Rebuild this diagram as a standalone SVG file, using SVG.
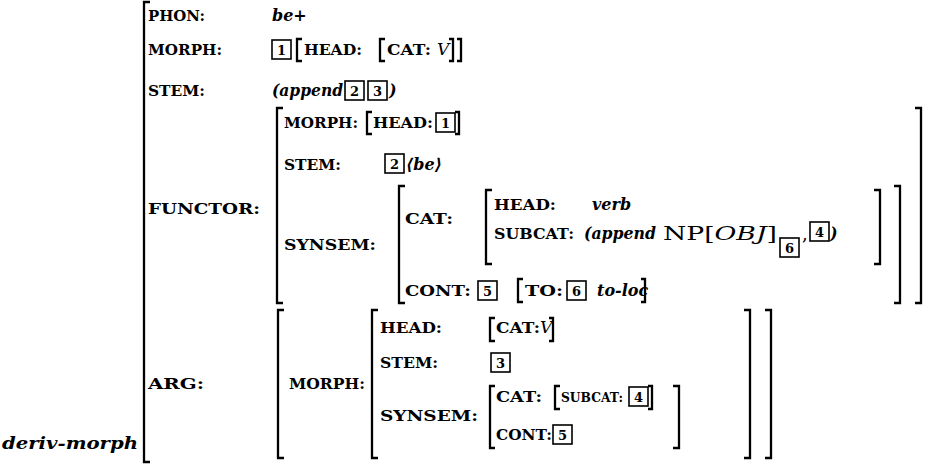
<svg xmlns="http://www.w3.org/2000/svg" width="934" height="464" viewBox="0 0 934 464">
<style>
text{font-family:"DejaVu Serif","Liberation Serif",serif;fill:#000}
.lb{font-weight:bold;font-size:15px}
.it{font-style:italic;font-weight:bold;font-size:16px}
.iv{font-style:italic;font-size:17px}
.rm{font-size:18px}
.tg{font-weight:bold;font-size:13px;text-anchor:middle}
.br{fill:none;stroke:#000;stroke-width:2.3}
.bx{fill:none;stroke:#000;stroke-width:1.6}
</style>
<rect width="934" height="464" fill="#fff"/>
<g id="avm">
<path class="br" d="M150 2H144V462H150"/>
<text class="it" x="2" y="449" textLength="136" lengthAdjust="spacingAndGlyphs">deriv-morph</text>
<text class="lb" x="148" y="21" textLength="57" lengthAdjust="spacingAndGlyphs">PHON:</text>
<text class="it" x="272" y="21">be+</text>
<text class="lb" x="148" y="55" textLength="74" lengthAdjust="spacingAndGlyphs">MORPH:</text>
<rect class="bx" x="272" y="40" width="19" height="19"/><text class="tg" x="281.5" y="55">1</text>
<path class="br" d="M302 39H297V61H302"/>
<text class="lb" x="304" y="55" textLength="58" lengthAdjust="spacingAndGlyphs">HEAD:</text>
<path class="br" d="M385 39H380V61H385"/>
<text class="lb" x="387" y="55" textLength="44" lengthAdjust="spacingAndGlyphs">CAT:</text>
<text class="iv" x="437" y="55">V</text>
<path class="br" d="M449 39H453V61H449"/>
<path class="br" d="M457 39H461V61H457"/>
<text class="lb" x="148" y="96" textLength="57" lengthAdjust="spacingAndGlyphs">STEM:</text>
<text class="it" x="272" y="96" textLength="71" lengthAdjust="spacingAndGlyphs">(append</text>
<rect class="bx" x="345" y="81" width="19" height="19"/><text class="tg" x="354.5" y="96">2</text>
<rect class="bx" x="368" y="81" width="19" height="19"/><text class="tg" x="377.5" y="96">3</text>
<text class="it" x="389" y="96">)</text>
<text class="lb" x="148" y="214" textLength="112" lengthAdjust="spacingAndGlyphs">FUNCTOR:</text>
<path class="br" d="M283 108H277V303H283"/>
<path class="br" d="M915 108H921V303H915"/>
<text class="lb" x="284" y="128" textLength="74" lengthAdjust="spacingAndGlyphs">MORPH:</text>
<path class="br" d="M372 112H367V134H372"/>
<text class="lb" x="373" y="128" textLength="60" lengthAdjust="spacingAndGlyphs">HEAD:</text>
<rect class="bx" x="436" y="113" width="19" height="19"/><text class="tg" x="445.5" y="128">1</text>
<path class="br" d="M455 112H459V134H455"/>
<text class="lb" x="284" y="170" textLength="57" lengthAdjust="spacingAndGlyphs">STEM:</text>
<rect class="bx" x="385" y="154" width="19" height="19"/><text class="tg" x="394.5" y="169">2</text>
<text class="it" x="406" y="170">⟨be⟩</text>
<text class="lb" x="284" y="250" textLength="92" lengthAdjust="spacingAndGlyphs">SYNSEM:</text>
<path class="br" d="M405 186H399V303H405"/>
<path class="br" d="M894 186H900V303H894"/>
<text class="lb" x="405" y="224" textLength="48" lengthAdjust="spacingAndGlyphs">CAT:</text>
<path class="br" d="M492 190H486V264H492"/>
<path class="br" d="M874 190H880V264H874"/>
<text class="lb" x="494" y="210" textLength="62" lengthAdjust="spacingAndGlyphs">HEAD:</text>
<text class="it" x="592" y="210">verb</text>
<text class="lb" x="494" y="239" textLength="80" lengthAdjust="spacingAndGlyphs">SUBCAT:</text>
<text class="it" x="584" y="239" textLength="72" lengthAdjust="spacingAndGlyphs">(append</text>
<text x="663" y="240" textLength="114" lengthAdjust="spacingAndGlyphs"><tspan class="rm">NP[</tspan><tspan class="iv" style="font-size:18px">OBJ</tspan><tspan class="rm">]</tspan></text>
<rect class="bx" x="780" y="238" width="19" height="19"/><text class="tg" x="789.5" y="253">6</text>
<text class="rm" x="802" y="240">,</text>
<rect class="bx" x="810" y="222" width="19" height="19"/><text class="tg" x="819.5" y="237">4</text>
<text class="it" x="830" y="239">)</text>
<text class="lb" x="405" y="296" textLength="66" lengthAdjust="spacingAndGlyphs">CONT:</text>
<rect class="bx" x="478" y="281" width="19" height="19"/><text class="tg" x="487.5" y="296">5</text>
<path class="br" d="M523 279H518V302H523"/>
<text class="lb" x="525" y="296" textLength="38" lengthAdjust="spacingAndGlyphs">TO:</text>
<rect class="bx" x="567" y="281" width="19" height="19"/><text class="tg" x="576.5" y="296">6</text>
<text class="it" x="597" y="296">to-loc</text>
<path class="br" d="M641 279H645V302H641"/>
<text class="lb" x="148" y="389" textLength="56" lengthAdjust="spacingAndGlyphs">ARG:</text>
<path class="br" d="M284 310H278V458H284"/>
<path class="br" d="M765 310H771V458H765"/>
<text class="lb" x="289" y="389" textLength="76" lengthAdjust="spacingAndGlyphs">MORPH:</text>
<path class="br" d="M378 310H372V458H378"/>
<path class="br" d="M744 310H750V458H744"/>
<text class="lb" x="380" y="333" textLength="62" lengthAdjust="spacingAndGlyphs">HEAD:</text>
<path class="br" d="M495 318H490V341H495"/>
<text class="lb" x="496" y="333" textLength="44" lengthAdjust="spacingAndGlyphs">CAT:</text>
<text class="iv" x="540" y="333">V</text>
<path class="br" d="M549 318H553V341H549"/>
<text class="lb" x="380" y="368" textLength="58" lengthAdjust="spacingAndGlyphs">STEM:</text>
<rect class="bx" x="491" y="353" width="19" height="19"/><text class="tg" x="500.5" y="368">3</text>
<text class="lb" x="380" y="421" textLength="98" lengthAdjust="spacingAndGlyphs">SYNSEM:</text>
<path class="br" d="M495 386H490V448H495"/>
<path class="br" d="M673 386H679V448H673"/>
<text class="lb" x="496" y="402" textLength="46" lengthAdjust="spacingAndGlyphs">CAT:</text>
<path class="br" d="M560 386H555V409H560"/>
<text class="lb" x="561" y="402" style="font-size:13px" textLength="62" lengthAdjust="spacingAndGlyphs">SUBCAT:</text>
<rect class="bx" x="629" y="387" width="19" height="19"/><text class="tg" x="638.5" y="402">4</text>
<path class="br" d="M648 386H652V409H648"/>
<text class="lb" x="496" y="440" textLength="56" lengthAdjust="spacingAndGlyphs">CONT:</text>
<rect class="bx" x="553" y="425" width="19" height="19"/><text class="tg" x="562.5" y="440">5</text>
</g>
</svg>
